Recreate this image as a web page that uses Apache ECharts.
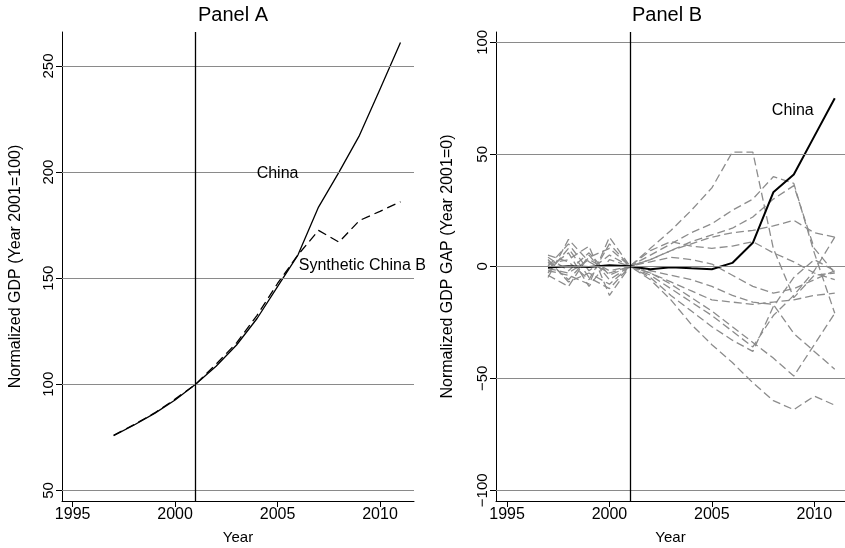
<!DOCTYPE html>
<html>
<head>
<meta charset="utf-8">
<script src="https://cdn.jsdelivr.net/npm/echarts@6/dist/echarts.min.js"></script>
<style>
html,body{margin:0;padding:0;background:#fff;}
#chart{width:845px;height:548px;}
</style>
</head>
<body>
<div id="chart"></div>
<script>
// ---- data ----
const years = [1997,1998,1999,2000,2001,2002,2003,2004,2005,2006,2007,2008,2009,2010,2011];
const chinaGDP = [75.8,80.8,86.3,92.6,100,108.5,118.5,131,146,161,183.5,200,217.3,239,261];
const syntheticGDP = [76,81,86.5,93,100,109.5,119.5,132.5,147.5,161,172.5,167,177.2,181.5,186];
const chinaGap = [-0.5,0,-0.3,0.5,0,-1.3,-0.4,-0.9,-1.3,1.5,10.5,33,41,58,75];
const placebo1  = [2,-6,4,8,0,8,16,25,35,51,51,8,-14,-4,-3];
const placebo2  = [-3,8,-5,-10,0,5,10,15,19,25,30,40,37,6,-21];
const placebo3  = [1,3,9,-13,0,3,7,11,14,17,22,30,36,8,-3];
const placebo4  = [4,-2,6,-4,0,3,7,10,13,15,16,18,20.5,15,13];
const placebo5  = [-5,12,2,-3,0,7,11,9,8,9,11,6,2,-3,-6];
const placebo6  = [-2,-4,-8,13,0,-4,-10,-16,-22,-29,-36,-22,-13,-2,13];
const placebo7  = [-1,6,-9,3,0,-3,-8,-14,-20,-27,-34,-41,-49,-35,-21];
const placebo8  = [3,-7,-3,-8,0,-6,-15,-26,-35,-43,-52,-60,-64,-58,-62];
const placebo9  = [0,10,-2,5,0,-2,-4,-6,-9,-13,-16,-17,-30,-38,-46];
const placebo10 = [-4,-9,5,-6,0,-3,-7,-11,-15,-16,-17,-16,-15,-13,-12];
const placebo11 = [5,2,-6,10,0,-5,-13,-20,-27,-33,-38,-18,-5,3,-2];
const placebo12 = [-1,-3,3,-2,0,2,4,3,1,-4,-9,-12,-10,-6,-2];
const placebos = [placebo1,placebo2,placebo3,placebo4,placebo5,placebo6,placebo7,placebo8,placebo9,placebo10,placebo11,placebo12];
const xTicks = [1995,2000,2005,2010];
const yTicksA = [50,100,150,200,250];
const yTicksB = [-100,-50,0,50,100];
const treatYear = 2001;
const titles = ['Panel A','Panel B'];
const yNames = ['Normalized GDP (Year 2001=100)','Normalized GDP GAP (Year 2001=0)'];

// ---- chart ----
const FONT = 'Liberation Sans, Arial, Helvetica, sans-serif';
const pair = arr => years.map((y,i)=>[y,arr[i]]);
const fmt = v => String(v).replace('-', '\u2212');
const gridColor = '#8a8a8a';

function xAxis(idx, min, max){
  return {
    type:'value', gridIndex:idx, min:min, max:max,
    splitLine:{show:false},
    axisLine:{show:true, onZero:false, lineStyle:{color:'#000', width:1}},
    axisTick:{show:true, length:6, customValues:xTicks, lineStyle:{color:'#000'}},
    axisLabel:{customValues:xTicks, formatter:fmt, color:'#000', fontSize:16, fontFamily:FONT, margin:6},
    name:'Year', nameLocation:'middle', nameGap:29,
    nameTextStyle:{color:'#000', fontSize:15, fontFamily:FONT}
  };
}
function yAxis(idx, min, max, ticks, name, gap){
  return {
    type:'value', gridIndex:idx, min:min, max:max,
    splitLine:{show:false},
    axisLine:{show:true, onZero:false, lineStyle:{color:'#000', width:1}},
    axisTick:{show:true, length:6, customValues:ticks, lineStyle:{color:'#000'}},
    axisLabel:{customValues:ticks, formatter:fmt, rotate:90, color:'#000', fontSize:15, fontFamily:FONT, margin:6},
    name:name, nameLocation:'middle', nameGap:gap, nameRotate:90,
    nameTextStyle:{color:'#000', fontSize:16, fontFamily:FONT}
  };
}
function refLines(idx, ticks){
  return {
    type:'line', xAxisIndex:idx, yAxisIndex:idx, data:[[treatYear, ticks[2]]],
    showSymbol:false, lineStyle:{opacity:0}, silent:true, z:1,
    markLine:{
      silent:true, symbol:['none','none'], label:{show:false}, animation:false,
      data: ticks.map(v=>({yAxis:v, lineStyle:{color:gridColor, width:1, type:'solid'}}))
        .concat([{xAxis:treatYear, lineStyle:{color:'#000', width:1.3, type:'solid'}}])
    }
  };
}
function textMark(idx, text, x, y, size){
  return {
    type:'scatter', xAxisIndex:idx, yAxisIndex:idx, data:[[x,y]], symbolSize:0, silent:true, z:5,
    itemStyle:{color:'#000', opacity:1},
    label:{show:true, position:'inside', formatter:text, color:'#000', textBorderWidth:0, opacity:1,
           fontSize:size, fontFamily:FONT}
  };
}

const series = [
  refLines(0, yTicksA),
  refLines(1, yTicksB),
  {type:'line', xAxisIndex:0, yAxisIndex:0, data:pair(syntheticGDP), showSymbol:false, z:3,
   lineStyle:{color:'#000', width:1.3, type:[9,5]}},
  {type:'line', xAxisIndex:0, yAxisIndex:0, data:pair(chinaGDP), showSymbol:false, z:4,
   lineStyle:{color:'#000', width:1.3}},
];
placebos.forEach(p=>series.push({
  type:'line', xAxisIndex:1, yAxisIndex:1, data:pair(p), showSymbol:false, z:2,
  lineStyle:{color:'#8c8c8c', width:1.3, type:[8,4]}
}));
series.push({type:'line', xAxisIndex:1, yAxisIndex:1, data:pair(chinaGap), showSymbol:false, z:4,
  lineStyle:{color:'#000', width:2}});
series.push(textMark(0, 'China', 2005.0, 199.4, 16));
series.push(textMark(0, 'Synthetic China B', 2009.14, 155.8, 16));
series.push(textMark(1, 'China', 2008.95, 69.3, 16));

const chart = echarts.init(document.getElementById('chart'), null, {renderer:'canvas'});
chart.setOption({
  animation:false,
  backgroundColor:'#fff',
  title:[
    {text:titles[0], left:233, top:5, textAlign:'center', padding:0, textStyle:{color:'#000', fontSize:20, fontWeight:'normal', fontFamily:FONT}},
    {text:titles[1], left:667, top:5, textAlign:'center', padding:0, textStyle:{color:'#000', fontSize:20, fontWeight:'normal', fontFamily:FONT}}
  ],
  grid:[
    {left:62, top:32, width:352, height:469, outerBoundsMode:'none', containLabel:false},
    {left:496, top:32, width:349, height:469, outerBoundsMode:'none', containLabel:false}
  ],
  xAxis:[xAxis(0, 1994.48, 2011.66), xAxis(1, 1994.46, 2011.5)],
  yAxis:[yAxis(0, 45, 266, yTicksA, yNames[0], 38), yAxis(1, -104.8, 104.6, yTicksB, yNames[1], 40)],
  series:series
});
</script>
</body>
</html>
